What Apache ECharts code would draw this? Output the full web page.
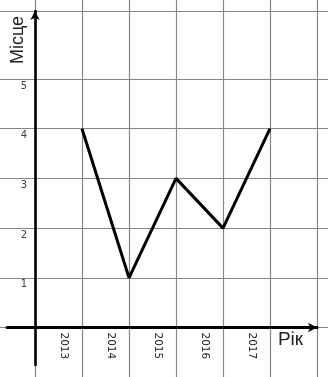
<!DOCTYPE html>
<html>
<head>
<meta charset="utf-8">
<script src="https://cdn.jsdelivr.net/npm/echarts@6/dist/echarts.min.js"></script>
<style>
  html, body { margin: 0; padding: 0; background: #fff; }
  #chart { width: 328px; height: 377px; }
</style>
</head>
<body>
<div id="chart"></div>
<script>
// data
const years = ['2013', '2014', '2015', '2016', '2017']
const places = [4, 1, 3, 2, 4]
const yTicks = [1, 2, 3, 4, 5]
const xTicks = [1, 2, 3, 4, 5]
// graph paper lines (axis units)
const paperX = [0, 1, 2, 3, 4, 5, 6]
const paperY = [0, 1, 2, 3, 4, 5, 6.37]

const points = years.map((y, i) => [xTicks[i], places[i]])

const noBounds = { containLabel: false, outerBoundsMode: 'none' }

const chart = echarts.init(document.getElementById('chart'))
chart.setOption({
  animation: false,
  grid: [
    // 0: graph paper over the whole picture
    Object.assign({ left: 0, right: 0, top: 0, bottom: 0 }, noBounds),
    // 1: axis lines with the bits past the origin
    Object.assign({ left: 7, right: 11, top: 11, bottom: 12 }, noBounds),
    // 2: origin at the corner, labels + the line
    Object.assign({ left: 35, right: 11, top: 11, bottom: 49.5 }, noBounds)
  ],
  xAxis: [
    {
      gridIndex: 0,
      type: 'value',
      min: -0.745,
      max: 6.234,
      axisLine: { show: false },
      axisTick: { show: false, customValues: paperX },
      axisLabel: { show: false },
      splitLine: { show: true, lineStyle: { color: '#858585', width: 1.2 } }
    },
    {
      gridIndex: 1,
      type: 'value',
      min: -0.596,
      max: 6,
      axisLine: {
        onZero: true,
        symbol: ['none', 'arrow'],
        symbolSize: [7, 9],
        lineStyle: { color: '#000', width: 3 }
      },
      axisTick: { show: false },
      axisLabel: { show: false },
      splitLine: { show: false }
    },
    {
      gridIndex: 2,
      type: 'value',
      min: 0,
      max: 6,
      axisLine: { show: false },
      axisTick: { show: false },
      splitLine: { show: false },
      axisLabel: {
        customValues: xTicks,
        formatter: v => years[v - 1],
        rotate: -90,
        margin: 5,
        align: 'left',
        verticalAlign: 'top',
        lineHeight: 12,
        padding: [12, 0, 0, 0],
        color: '#222',
        fontSize: 10.5,
        fontFamily: 'DejaVu Sans'
      }
    }
  ],
  yAxis: [
    {
      gridIndex: 0,
      type: 'value',
      min: -0.996,
      max: 6.59,
      axisLine: { show: false },
      axisTick: { show: false, customValues: paperY },
      axisLabel: { show: false },
      splitLine: { show: true, lineStyle: { color: '#858585', width: 1.2 } }
    },
    {
      gridIndex: 1,
      type: 'value',
      min: -0.7545,
      max: 6.368,
      axisLine: {
        onZero: true,
        symbol: ['none', 'arrow'],
        symbolSize: [7, 9],
        lineStyle: { color: '#000', width: 2.6 }
      },
      axisTick: { show: false },
      axisLabel: { show: false },
      splitLine: { show: false }
    },
    {
      gridIndex: 2,
      type: 'value',
      min: 0,
      max: 6.368,
      axisLine: { show: false },
      axisTick: { show: false },
      splitLine: { show: false },
      axisLabel: {
        customValues: yTicks,
        margin: 8,
        verticalAlign: 'top',
        lineHeight: 12,
        padding: [1, 0, 0, 0],
        color: '#3a3a48',
        fontSize: 10,
        fontFamily: 'DejaVu Sans'
      }
    }
  ],
  graphic: [
    {
      type: 'text',
      x: 18,
      y: 40,
      rotation: Math.PI / 2,
      style: {
        text: 'Місце',
        font: '18px "Liberation Sans"',
        fill: '#222',
        align: 'center',
        verticalAlign: 'middle'
      }
    },
    {
      type: 'text',
      x: 290.5,
      y: 340,
      style: {
        text: 'Рік',
        font: '19px "Liberation Sans"',
        fill: '#222',
        align: 'center',
        verticalAlign: 'middle'
      }
    }
  ],
  series: [
    {
      type: 'line',
      xAxisIndex: 2,
      yAxisIndex: 2,
      data: points,
      symbol: 'none',
      lineStyle: { color: '#000', width: 3 },
      z: 5
    }
  ]
})
</script>
</body>
</html>
